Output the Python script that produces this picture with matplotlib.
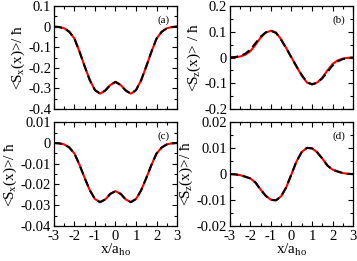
import numpy as np
import matplotlib
matplotlib.use("Agg")
import matplotlib.pyplot as plt
from matplotlib.ticker import MultipleLocator

plt.rcParams["font.family"] = ["Liberation Serif", "DejaVu Serif"]
plt.rcParams["mathtext.fontset"] = "custom"
plt.rcParams["mathtext.rm"] = "Liberation Serif"
plt.rcParams["mathtext.it"] = "Liberation Serif"
plt.rcParams["axes.unicode_minus"] = False

x = [-3.0, -2.75, -2.5, -2.25, -2.0, -1.75, -1.5, -1.25, -1.0, -0.75, -0.5, -0.25, 0.0,
     0.25, 0.5, 0.75, 1.0, 1.25, 1.5, 1.75, 2.0, 2.25, 2.5, 2.75, 3.0]

sx_a_solid = [0.0, -0.002, -0.008, -0.025, -0.058, -0.122, -0.193, -0.26, -0.308, -0.325, -0.31, -0.283, -0.268,
              -0.283, -0.31, -0.325, -0.308, -0.26, -0.193, -0.122, -0.058, -0.025, -0.008, -0.002, 0.0]
sx_a_dash = [0.0, -0.002, -0.008, -0.025, -0.058, -0.122, -0.193, -0.26, -0.308, -0.325, -0.31, -0.283, -0.268,
             -0.283, -0.31, -0.325, -0.308, -0.26, -0.193, -0.122, -0.058, -0.025, -0.008, -0.002, 0.0]

sz_b_solid = [0.0, 0.001, 0.004, 0.011, 0.025, 0.05, 0.078, 0.097, 0.104, 0.097, 0.07, 0.036, 0.0,
              -0.036, -0.07, -0.097, -0.104, -0.097, -0.078, -0.05, -0.025, -0.011, -0.004, -0.001, 0.0]
sz_b_dash = [0.0, 0.002, 0.006, 0.015, 0.031, 0.056, 0.081, 0.098, 0.104, 0.095, 0.068, 0.035, 0.0,
             -0.035, -0.068, -0.095, -0.104, -0.098, -0.081, -0.056, -0.031, -0.015, -0.006, -0.002, 0.0]

sx_c_solid = [0.0, -0.0002, -0.0007, -0.0022, -0.0051, -0.0106, -0.0169, -0.0228, -0.027, -0.0285, -0.0272, -0.0245, -0.0232,
              -0.0245, -0.0272, -0.0285, -0.027, -0.0228, -0.0169, -0.0106, -0.0051, -0.0022, -0.0007, -0.0002, 0.0]
sx_c_dash = sx_c_solid

sz_d_solid = [0.0, -0.0001, -0.0004, -0.001, -0.0017, -0.0033, -0.006, -0.0084, -0.0099, -0.0101, -0.0085, -0.005, 0.0,
              0.005, 0.0085, 0.0101, 0.0099, 0.0084, 0.006, 0.0033, 0.0017, 0.001, 0.0004, 0.0001, 0.0]
sz_d_dash = sz_d_solid

panels = [
    ("(a)", sx_a_solid, sx_a_dash, (-0.4, 0.1), 0.1, r"<S$_x$(x)>/ ħ"),
    ("(b)", sz_b_solid, sz_b_dash, (-0.2, 0.2), 0.1, r"<S$_z$(x)> / ħ"),
    ("(c)", sx_c_solid, sx_c_dash, (-0.04, 0.01), 0.01, r"<S$_x$(x)>/ ħ"),
    ("(d)", sz_d_solid, sz_d_dash, (-0.02, 0.02), 0.01, r"<S$_z$(x)>/ ħ"),
]

fig = plt.figure(figsize=(3.57, 2.61), dpi=100)
rects = [
    [0.151, 0.582, 0.345, 0.395],
    [0.644, 0.582, 0.345, 0.395],
    [0.151, 0.134, 0.345, 0.398],
    [0.644, 0.134, 0.345, 0.398],
]

for i, (rect, (lab, ys, yd, ylim, ystep, ylabel)) in enumerate(zip(rects, panels)):
    ax = fig.add_axes(rect)
    ax.plot(x, ys, color="red", lw=1.5, zorder=2)
    ax.plot(x, yd, color="black", lw=1.5, ls=(0, (4, 2.2)), zorder=3)
    ax.set_xlim(-3, 3)
    ax.set_ylim(*ylim)
    ax.xaxis.set_major_locator(MultipleLocator(1))
    ax.xaxis.set_minor_locator(MultipleLocator(0.5))
    ax.yaxis.set_major_locator(MultipleLocator(ystep))
    ax.yaxis.set_minor_locator(MultipleLocator(ystep / 2))
    ax.tick_params(which="both", direction="in", top=True, right=True, labelsize=10.5)
    ax.tick_params(axis="y", pad=2)
    ax.tick_params(axis="x", pad=3)
    ax.tick_params(which="major", length=3.5, width=0.8)
    ax.tick_params(which="minor", length=2, width=0.8)
    ax.yaxis.set_major_formatter(plt.FuncFormatter(lambda v, p: "0" if abs(v) < 1e-12 else f"{v:g}"))
    for s in ax.spines.values():
        s.set_linewidth(0.9)
    ax.set_ylabel(ylabel, fontsize=11, labelpad=1)
    ax.text(0.94, 0.91, lab, transform=ax.transAxes, fontsize=8, ha="right", va="top")
    if i < 2:
        ax.tick_params(labelbottom=False)
    else:
        ax.set_xlabel(r"x/a$_{ho}$", fontsize=11, labelpad=-1)

fig.savefig("out.png", dpi=100)
